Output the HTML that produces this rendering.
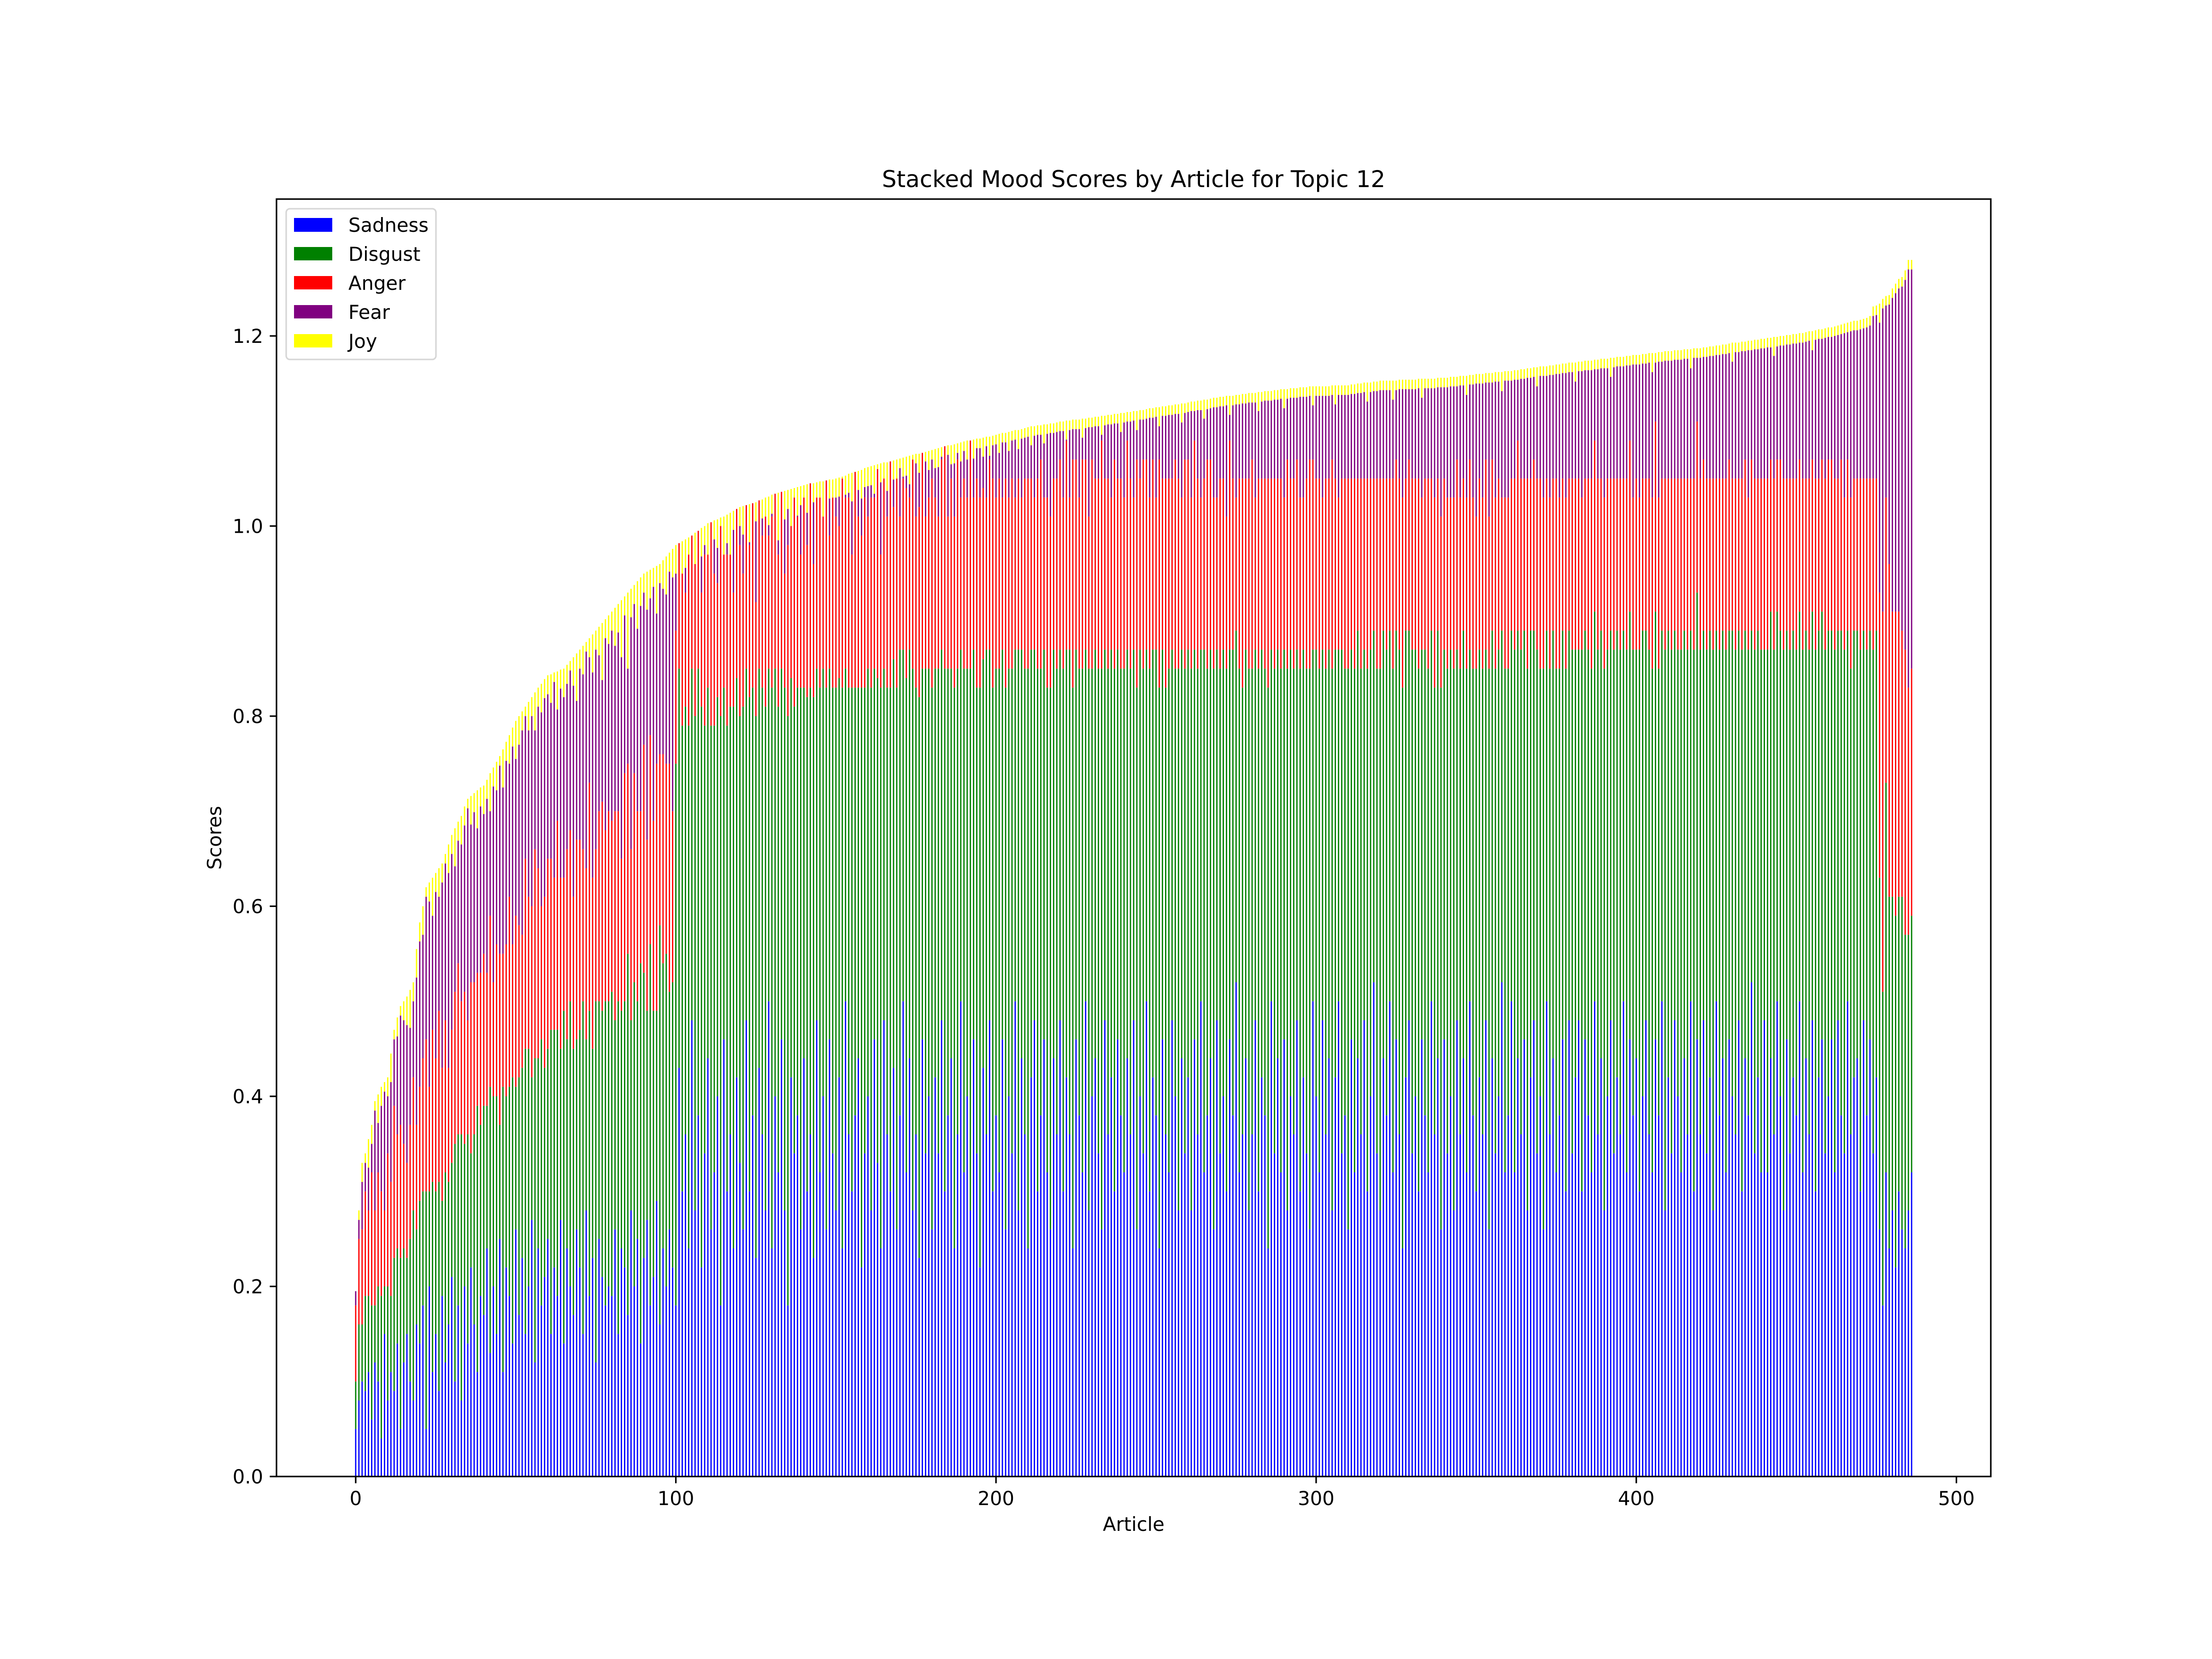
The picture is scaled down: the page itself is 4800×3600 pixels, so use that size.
<!DOCTYPE html>
<html><head><meta charset="utf-8"><style>
html,body{margin:0;padding:0;background:#fff;}
svg{display:block;font-family:"DejaVu Sans","Liberation Sans",sans-serif;}
</style></head><body>
<svg id="chart" width="4800" height="3600" viewBox="0 0 4800 3600" xmlns="http://www.w3.org/2000/svg">
<rect x="0" y="0" width="4800" height="3600" fill="#fff"/>
<g id="bars"></g>
<g id="axes"></g>
<text x="2460" y="406" font-size="50" text-anchor="middle">Stacked Mood Scores by Article for Topic 12</text>
<text x="2460" y="3322" font-size="41.7" text-anchor="middle">Article</text>
<text transform="translate(480,1818) rotate(-90)" font-size="41.7" text-anchor="middle">Scores</text>
<g>
<rect x="621" y="453" width="325" height="327" rx="8" fill="#fff" fill-opacity="0.8" stroke="#d6d6d6" stroke-width="3.3"/>
<rect x="638" y="473" width="83" height="30" fill="#0000ff"/>
<text x="756" y="503" font-size="41.7">Sadness</text>
<rect x="638" y="536" width="83" height="29" fill="#008000"/>
<text x="756" y="566" font-size="41.7">Disgust</text>
<rect x="638" y="599" width="83" height="29" fill="#ff0000"/>
<text x="756" y="629" font-size="41.7">Anger</text>
<rect x="638" y="662" width="83" height="29" fill="#800080"/>
<text x="756" y="692" font-size="41.7">Fear</text>
<rect x="638" y="725" width="83" height="29" fill="#ffff00"/>
<text x="756" y="755" font-size="41.7">Joy</text>
</g>
</svg>
<script>
// Total stacked height per article (thousandths), read from the envelope
const totals = [
195,280,330,340,355,370,395,402,410,415,420,445,470,483,495,500,505,512,520,555,
583,600,620,625,630,635,640,645,655,665,675,682,689,695,705,713,716,719,722,725,
727,733,740,746,752,758,765,773,780,788,795,800,805,810,815,820,825,830,834,839,
843,844,846,847,849,850,854,858,862,866,870,874,878,882,886,890,894,898,902,906,
910,914,918,922,926,930,934,938,942,946,950,952,954,956,958,960,964,968,972,976,
980,982,984,986,988,990,993,995,998,1000,1003,1004,1006,1007,1009,1010,1012,1014,1016,1018,
1020,1021,1022,1023,1024,1025,1027,1028,1030,1031,1033,1034,1035,1036,1037,1038,1039,1040,1041,1042,
1043,1044,1045,1045,1046,1047,1047,1048,1049,1049,1050,1051,1052,1053,1055,1056,1057,1058,1059,1061,
1062,1063,1064,1065,1066,1067,1067,1068,1069,1070,1071,1072,1073,1074,1075,1076,1076,1077,1078,1079,
1080,1081,1082,1083,1084,1085,1085,1086,1087,1088,1089,1090,1090,1091,1092,1092,1093,1094,1094,1095,
1096,1097,1098,1098,1099,1100,1101,1101,1102,1103,1104,1105,1105,1106,1106,1107,1107,1108,1108,1109,
1110,1110,1111,1111,1112,1112,1112,1113,1113,1114,1114,1115,1115,1116,1116,1117,1117,1118,1118,1119,
1119,1120,1120,1121,1121,1122,1122,1123,1124,1124,1125,1125,1126,1126,1127,1127,1128,1128,1129,1129,
1130,1131,1131,1132,1132,1133,1133,1134,1135,1135,1136,1136,1137,1137,1137,1138,1138,1139,1139,1140,
1140,1140,1141,1141,1142,1142,1142,1143,1143,1144,1144,1144,1145,1145,1145,1146,1146,1146,1147,1147,
1147,1147,1147,1147,1147,1148,1148,1148,1148,1148,1148,1149,1149,1150,1150,1151,1151,1151,1152,1152,
1153,1153,1153,1153,1153,1153,1154,1154,1154,1154,1154,1154,1155,1155,1155,1155,1155,1155,1156,1156,
1156,1156,1157,1157,1157,1158,1158,1158,1159,1159,1160,1160,1160,1161,1161,1161,1162,1162,1162,1163,
1163,1163,1164,1164,1165,1165,1166,1166,1167,1167,1168,1168,1168,1169,1169,1170,1170,1171,1171,1172,
1172,1172,1173,1173,1174,1174,1174,1175,1175,1176,1176,1176,1177,1177,1178,1178,1178,1179,1179,1180,
1180,1180,1181,1181,1182,1182,1182,1183,1183,1184,1184,1184,1185,1185,1185,1186,1186,1186,1187,1187,
1187,1188,1188,1189,1189,1190,1190,1191,1191,1192,1193,1193,1193,1194,1194,1195,1195,1196,1196,1197,
1197,1198,1198,1199,1199,1200,1200,1201,1201,1202,1202,1203,1203,1204,1205,1205,1206,1207,1207,1208,
1209,1209,1210,1211,1212,1213,1214,1215,1216,1216,1217,1218,1219,1221,1231,1232,1234,1239,1242,1243,
1250,1255,1260,1262,1269,1280,1280];
// Sadness (hundredths)
const sadness = [
5,8,10,9,11,6,12,10,4,15,8,11,9,14,5,12,15,10,8,16,
14,18,5,20,11,15,9,19,12,16,21,10,18,8,20,14,22,16,11,19,
17,24,13,20,15,25,11,22,19,14,26,17,23,15,20,27,12,24,18,21,
25,15,22,19,27,14,24,20,17,26,22,15,28,19,23,12,25,21,18,20,
19,26,15,24,22,17,28,20,25,14,23,27,18,21,29,16,24,20,26,22,
18,43,30,36,24,48,28,38,22,34,44,26,32,40,18,46,30,36,24,42,
33,26,48,30,38,23,43,36,28,50,24,40,32,46,28,18,42,34,38,26,
44,30,36,23,48,32,40,26,46,34,28,42,24,50,36,30,38,44,22,34,
40,28,46,33,24,48,36,30,43,26,38,50,32,44,28,36,23,46,34,40,
26,42,34,48,30,38,44,24,36,50,32,40,28,46,34,22,43,36,48,30,
38,32,46,26,40,34,50,28,44,36,24,42,48,30,38,46,32,26,44,36,
48,30,42,36,24,46,38,32,50,28,40,44,34,26,48,36,42,30,46,38,
32,44,36,48,26,40,34,50,30,42,38,24,46,36,32,48,40,28,44,34,
42,28,46,36,50,32,38,44,26,48,34,40,30,46,38,52,32,36,44,28,
36,48,30,42,38,24,50,34,44,32,46,28,40,36,48,30,42,34,26,50,
40,32,48,36,44,28,42,50,34,38,26,46,32,44,36,48,30,40,52,34,
28,44,38,50,32,46,36,24,42,48,34,40,30,46,38,32,50,36,44,26,
46,34,40,28,48,36,44,32,50,38,30,42,36,48,26,44,34,40,52,32,
38,50,32,44,36,46,28,42,48,34,40,26,50,36,44,32,38,46,30,48,
34,42,48,30,46,38,32,50,36,44,28,40,48,34,42,36,50,32,46,38,
44,30,40,48,36,32,46,38,50,28,42,34,48,40,32,44,36,50,30,46,
36,48,34,42,28,50,38,44,32,46,40,36,48,30,44,38,52,34,42,32,
48,32,44,36,50,40,28,46,34,42,38,50,32,44,36,48,30,42,46,34,
40,46,32,48,38,34,50,36,42,44,30,48,38,46,34,42,26,18,32,24,
28,22,30,26,24,28,32];
// Disgust (hundredths)
const disgust = [
5,8,6,10,8,12,6,10,15,5,12,8,14,10,18,12,8,15,20,10,
15,12,25,10,20,15,22,10,20,15,12,25,18,28,15,22,12,20,28,18,
22,15,28,20,25,12,30,18,22,28,15,25,20,30,25,15,32,20,28,22,
20,32,25,28,18,35,22,30,28,20,25,35,18,30,22,38,25,28,32,30,
32,22,35,25,28,38,20,32,25,40,30,22,38,28,20,42,30,35,25,30,
57,42,49,45,55,37,52,47,59,45,39,53,47,42,62,37,49,45,57,42,
47,55,37,52,45,57,42,47,53,35,59,45,49,39,55,62,42,47,45,57,
39,52,47,59,37,51,45,57,39,49,55,42,59,35,47,53,45,39,61,49,
45,55,39,51,59,37,47,53,43,57,49,37,52,43,57,47,59,39,51,45,
57,43,51,39,55,47,41,59,49,37,53,45,57,41,49,61,43,51,39,53,
47,53,41,57,45,51,37,59,43,49,61,45,39,55,47,41,51,57,43,49,
39,55,45,51,59,41,47,53,37,57,45,43,51,59,39,49,45,55,41,47,
53,43,49,39,57,47,51,37,55,45,49,59,41,47,53,39,45,57,43,51,
45,57,41,49,37,55,47,43,59,39,51,47,55,41,49,37,53,47,43,57,
49,39,55,45,47,59,37,51,43,53,41,57,47,49,39,55,45,51,59,37,
47,53,39,49,43,57,45,37,53,47,59,41,53,45,49,39,55,47,37,51,
57,45,49,39,53,43,51,59,47,41,53,47,55,41,49,53,39,47,45,57,
41,51,47,57,39,49,45,53,37,47,55,45,49,39,59,45,51,47,37,53,
47,39,55,45,51,43,57,47,41,53,45,59,39,49,45,53,47,43,55,41,
53,45,39,57,43,49,53,41,51,45,57,47,41,53,47,51,39,55,45,49,
43,57,49,41,51,53,45,47,39,59,47,53,41,47,55,45,51,39,57,47,
51,41,53,47,59,39,49,45,55,43,49,51,41,57,45,49,37,53,47,55,
39,55,47,51,41,49,59,43,53,47,49,41,55,45,51,43,57,47,45,53,
49,43,55,41,51,53,39,49,47,45,57,41,49,43,53,47,37,33,41,37,
33,37,31,35,33,29,27];
// Anger (hundredths)
const anger = [
8,9,10,11,9,14,10,12,11,8,14,12,16,12,14,11,10,12,14,11,
12,14,16,11,16,14,18,14,16,12,14,16,18,14,16,12,18,16,14,16,
16,14,18,12,16,18,14,16,20,14,18,16,14,20,16,18,22,20,14,18,
20,18,16,22,18,14,20,18,16,21,20,16,18,24,18,16,20,22,18,20,
18,22,20,16,24,20,18,22,20,16,24,18,22,20,26,18,22,20,24,18,
14,20,16,12,18,14,16,20,12,18,14,22,16,12,20,14,18,16,12,20,
18,14,20,16,22,12,18,16,20,14,18,22,16,20,12,18,16,22,18,14,
20,16,22,14,18,20,16,24,14,20,18,16,22,18,20,14,24,18,16,20,
16,20,18,22,14,20,18,24,16,22,14,18,20,16,22,18,20,24,16,18,
22,18,16,20,24,16,20,18,22,16,20,18,24,16,22,20,18,16,20,22,
18,20,16,22,18,20,16,18,16,20,20,18,16,20,22,16,20,18,18,20,
20,18,22,16,24,20,18,22,20,16,22,18,20,24,18,20,16,22,18,20,
18,22,20,16,24,18,22,20,18,20,16,24,18,22,20,18,22,20,16,22,
20,18,22,20,16,18,22,20,18,16,20,18,16,22,18,14,20,22,18,20,
22,16,20,18,20,22,18,20,18,20,16,22,18,20,20,18,16,20,22,20,
18,20,16,20,18,22,18,16,18,20,20,18,20,16,20,18,20,18,16,20,
20,16,18,16,20,18,18,20,16,18,18,18,20,16,18,20,16,20,16,18,
18,18,16,18,20,18,16,18,20,18,16,18,18,20,16,18,18,18,14,18,
18,16,18,20,18,16,20,16,18,18,20,18,16,18,16,20,18,16,18,16,
18,18,18,16,16,18,20,18,18,16,18,18,16,18,16,18,16,18,18,16,
18,16,16,16,18,18,20,18,16,18,16,18,16,18,18,16,18,16,18,18,
18,18,18,16,18,16,18,16,18,18,16,18,16,18,18,16,18,18,16,18,
18,18,16,18,16,18,18,16,18,16,18,16,18,16,18,16,18,16,16,18,
18,18,18,16,18,16,18,18,16,16,18,16,18,16,18,16,30,40,30,35,
30,32,30,28,30,26,26];
// Joy (hundredths)
const joy = [
0,1,2,1,3,2,1,3,2,1,2,3,1,2,1,2,3,4,2,3,
2,3,1,2,4,2,3,2,1,3,2,4,2,3,2,1,3,2,4,2,
3,2,4,2,3,1,4,2,3,2,4,3,2,1,3,2,4,2,3,2,
2,3,1,4,2,3,2,1,3,5,2,3,1,2,4,2,3,6,2,3,
2,4,3,6,2,8,3,2,5,3,2,4,3,2,5,2,3,4,2,3,
3,2,4,3,2,3,4,2,3,2,4,3,2,3,2,4,3,5,2,3,
2,3,2,4,3,2,3,2,4,3,2,3,5,2,3,2,4,2,3,2,
2,3,2,2,3,2,4,2,2,3,2,2,3,2,2,3,2,2,3,2,
2,2,3,2,2,2,3,2,2,2,1,2,2,3,2,1,2,2,1,2,
1,2,2,1,2,1,2,2,1,2,1,2,1,2,1,1,2,1,2,1,
1,2,1,1,2,1,1,2,1,1,1,2,1,1,1,2,1,1,1,1,
1,1,2,1,1,1,1,2,1,1,1,1,1,2,1,1,1,1,1,2,
1,1,1,1,2,1,1,1,1,1,1,2,1,1,1,1,1,1,2,1,
1,1,1,1,1,2,1,1,1,1,1,1,1,2,1,1,1,1,1,1,
1,1,2,1,1,1,1,1,1,1,2,1,1,1,1,1,1,1,1,2,
1,1,1,1,1,1,2,1,1,1,1,1,1,1,1,1,2,1,1,1,
1,1,1,1,2,1,1,1,1,1,1,1,1,2,1,1,1,1,1,1,
1,1,1,1,1,1,1,2,1,1,1,1,1,1,1,1,1,1,2,1,
1,1,1,1,1,1,1,1,1,2,1,1,1,1,1,1,1,1,1,1,
1,2,1,1,1,1,1,1,1,1,1,1,2,1,1,1,1,1,1,1,
1,1,1,1,1,2,1,1,1,1,1,1,1,1,1,1,1,2,1,1,
1,1,1,1,1,1,1,1,1,1,2,1,1,1,1,1,1,1,1,1,
1,1,1,2,1,1,1,1,1,1,1,1,1,1,1,2,1,1,1,1,
1,1,1,1,1,1,1,1,1,1,1,1,1,1,1,1,2,1,1,1,
1,1,1,1,1,1,1];
const yTicks = [0.0, 0.2, 0.4, 0.6, 0.8, 1.0, 1.2];
const xTicks = [0, 100, 200, 300, 400, 500];
const colors = ["#0000ff", "#008000", "#ff0000", "#800080", "#ffff00"];
const moodNames = ["sadness", "disgust", "anger", "fear", "joy"];

const NS = "http://www.w3.org/2000/svg";
const X0 = 600, X1 = 4320, Y0 = 432, Y1 = 3204;
const n = totals.length;
const pad = 0.05 * (n - 1 + 0.8);
const xmin = -0.4 - pad, xmax = n - 1 + 0.4 + pad;
const ymax = Math.max(...totals) / 1000 * 1.05;
function xs(v) { return X0 + (v - xmin) / (xmax - xmin) * (X1 - X0); }
function ys(v) { return Y1 - v / ymax * (Y1 - Y0); }

const barsG = document.getElementById("bars");
const bw = 2.8;
for (let i = 0; i < n; i++) {
  const total = totals[i] / 1000;
  let vals = [sadness[i] / 100, disgust[i] / 100, anger[i] / 100, 0, joy[i] / 100];
  vals[3] = Math.max(0, total - vals[0] - vals[1] - vals[2] - vals[4]);
  let base = 0;
  for (let k = 0; k < 5; k++) {
    let v = vals[k];
    if (base + v > total) v = Math.max(0, total - base);
    if (v <= 0) continue;
    const r = document.createElementNS(NS, "rect");
    r.setAttribute("x", (xs(i) - bw / 2).toFixed(2));
    r.setAttribute("y", ys(base + v).toFixed(2));
    r.setAttribute("width", bw);
    r.setAttribute("height", (ys(base) - ys(base + v)).toFixed(2));
    r.setAttribute("fill", colors[k]);
    
    
    barsG.appendChild(r);
    base += v;
  }
}

const axesG = document.getElementById("axes");
function mk(tag, attrs) {
  const e = document.createElementNS(NS, tag);
  for (const k in attrs) e.setAttribute(k, attrs[k]);
  axesG.appendChild(e);
  return e;
}
const frame = mk("rect", {x: X0, y: Y0, width: X1 - X0, height: Y1 - Y0, fill: "none", stroke: "#000", "stroke-width": 3.3});


yTicks.forEach(t => {
  const y = ys(t);
  const tk = mk("line", {x1: X0 - 14.6, x2: X0, y1: y, y2: y, stroke: "#000", "stroke-width": 3.3});
  
  
  const lb = mk("text", {x: X0 - 29, y: y + 15, "font-size": 41.7, "text-anchor": "end"});
  lb.textContent = t.toFixed(1);
  
  
});
xTicks.forEach(t => {
  const x = xs(t);
  const tk = mk("line", {x1: x, x2: x, y1: Y1, y2: Y1 + 14.6, stroke: "#000", "stroke-width": 3.3});
  
  
  const lb = mk("text", {x: x, y: Y1 + 62, "font-size": 41.7, "text-anchor": "middle"});
  lb.textContent = String(t);
  
  
});
</script>
</body></html>
